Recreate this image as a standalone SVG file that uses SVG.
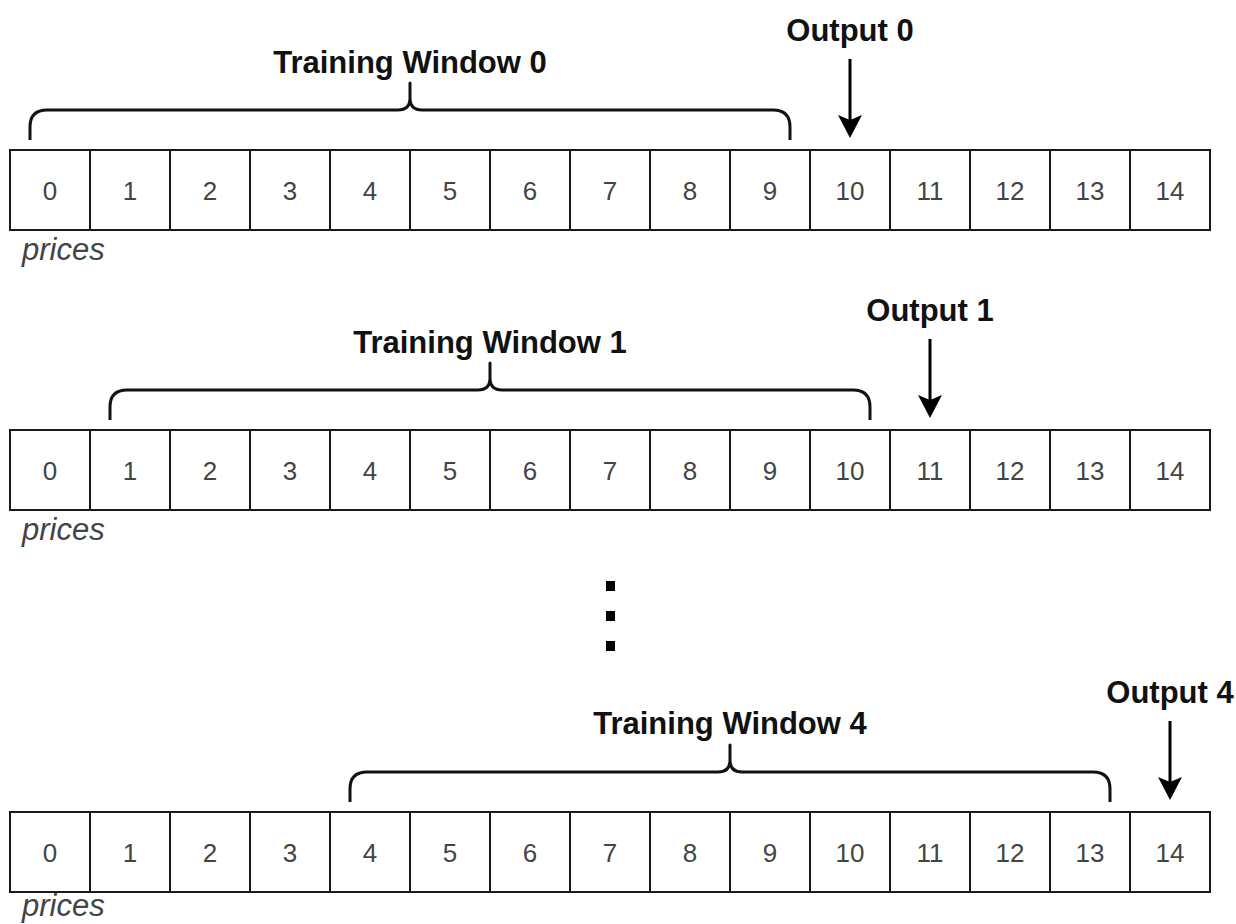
<svg xmlns="http://www.w3.org/2000/svg" width="1236" height="924" viewBox="0 0 1236 924">
<style>
.cell rect{fill:#fff;stroke:#1a1a1a;stroke-width:2}
.cell text{font-family:"Liberation Sans",Arial,sans-serif;font-size:26px;fill:#444;text-anchor:middle}
.cap{font-family:"Liberation Sans",Arial,sans-serif;font-size:31px;font-style:italic;fill:#444}
.lbl{font-family:"Liberation Sans",Arial,sans-serif;font-size:31px;font-weight:bold;fill:#111;text-anchor:middle}
.brace{fill:none;stroke:#111;stroke-width:3;stroke-linejoin:round;stroke-linecap:butt}
.arrow{stroke:#000;stroke-width:3;fill:none}
.dot{fill:#000}
</style>
<defs>
<marker id="ah" viewBox="0 0 23 24" refX="10" refY="12" markerWidth="23" markerHeight="24" markerUnits="userSpaceOnUse" orient="auto">
<path d="M0,0 L23,12 L0,24 L5,12 Z" fill="#000"/>
</marker>
<path id="bracePath" d="M30,140 V127 Q30,110 47,110 H398 Q410,110 410,98 V83 V98 Q410,110 422,110 H773 Q790,110 790,127 V140"/>
</defs>

<!-- Row 0 -->
<g id="row0">
<g id="r0c0" class="cell"><rect x="10" y="150" width="80" height="80"/><text x="50" y="200">0</text></g>
<g id="r0c1" class="cell"><rect x="90" y="150" width="80" height="80"/><text x="130" y="200">1</text></g>
<g id="r0c2" class="cell"><rect x="170" y="150" width="80" height="80"/><text x="210" y="200">2</text></g>
<g id="r0c3" class="cell"><rect x="250" y="150" width="80" height="80"/><text x="290" y="200">3</text></g>
<g id="r0c4" class="cell"><rect x="330" y="150" width="80" height="80"/><text x="370" y="200">4</text></g>
<g id="r0c5" class="cell"><rect x="410" y="150" width="80" height="80"/><text x="450" y="200">5</text></g>
<g id="r0c6" class="cell"><rect x="490" y="150" width="80" height="80"/><text x="530" y="200">6</text></g>
<g id="r0c7" class="cell"><rect x="570" y="150" width="80" height="80"/><text x="610" y="200">7</text></g>
<g id="r0c8" class="cell"><rect x="650" y="150" width="80" height="80"/><text x="690" y="200">8</text></g>
<g id="r0c9" class="cell"><rect x="730" y="150" width="80" height="80"/><text x="770" y="200">9</text></g>
<g id="r0c10" class="cell"><rect x="810" y="150" width="80" height="80"/><text x="850" y="200">10</text></g>
<g id="r0c11" class="cell"><rect x="890" y="150" width="80" height="80"/><text x="930" y="200">11</text></g>
<g id="r0c12" class="cell"><rect x="970" y="150" width="80" height="80"/><text x="1010" y="200">12</text></g>
<g id="r0c13" class="cell"><rect x="1050" y="150" width="80" height="80"/><text x="1090" y="200">13</text></g>
<g id="r0c14" class="cell"><rect x="1130" y="150" width="80" height="80"/><text x="1170" y="200">14</text></g>
<text class="cap" x="22" y="260">prices</text>
</g>
<g id="brace0"><use href="#bracePath" class="brace"/><text class="lbl" x="410" y="73">Training Window 0</text></g>
<g id="out0"><text class="lbl" x="850" y="41">Output 0</text></g>

<!-- Row 1 -->
<g id="row1">
<g id="r1c0" class="cell"><rect x="10" y="430" width="80" height="80"/><text x="50" y="480">0</text></g>
<g id="r1c1" class="cell"><rect x="90" y="430" width="80" height="80"/><text x="130" y="480">1</text></g>
<g id="r1c2" class="cell"><rect x="170" y="430" width="80" height="80"/><text x="210" y="480">2</text></g>
<g id="r1c3" class="cell"><rect x="250" y="430" width="80" height="80"/><text x="290" y="480">3</text></g>
<g id="r1c4" class="cell"><rect x="330" y="430" width="80" height="80"/><text x="370" y="480">4</text></g>
<g id="r1c5" class="cell"><rect x="410" y="430" width="80" height="80"/><text x="450" y="480">5</text></g>
<g id="r1c6" class="cell"><rect x="490" y="430" width="80" height="80"/><text x="530" y="480">6</text></g>
<g id="r1c7" class="cell"><rect x="570" y="430" width="80" height="80"/><text x="610" y="480">7</text></g>
<g id="r1c8" class="cell"><rect x="650" y="430" width="80" height="80"/><text x="690" y="480">8</text></g>
<g id="r1c9" class="cell"><rect x="730" y="430" width="80" height="80"/><text x="770" y="480">9</text></g>
<g id="r1c10" class="cell"><rect x="810" y="430" width="80" height="80"/><text x="850" y="480">10</text></g>
<g id="r1c11" class="cell"><rect x="890" y="430" width="80" height="80"/><text x="930" y="480">11</text></g>
<g id="r1c12" class="cell"><rect x="970" y="430" width="80" height="80"/><text x="1010" y="480">12</text></g>
<g id="r1c13" class="cell"><rect x="1050" y="430" width="80" height="80"/><text x="1090" y="480">13</text></g>
<g id="r1c14" class="cell"><rect x="1130" y="430" width="80" height="80"/><text x="1170" y="480">14</text></g>
<text class="cap" x="22" y="540">prices</text>
</g>
<g id="brace1"><use href="#bracePath" class="brace" transform="translate(80,280)"/><text class="lbl" x="490" y="353">Training Window 1</text></g>
<g id="out1"><text class="lbl" x="930" y="321">Output 1</text></g>

<!-- Ellipsis -->
<g id="ellipsis">
<rect class="dot" x="606" y="581" width="9" height="10"/>
<rect class="dot" x="606" y="611" width="9" height="10"/>
<rect class="dot" x="606" y="641" width="9" height="10"/>
</g>

<!-- Row 4 -->
<g id="row4">
<g id="r4c0" class="cell"><rect x="10" y="812" width="80" height="80"/><text x="50" y="862">0</text></g>
<g id="r4c1" class="cell"><rect x="90" y="812" width="80" height="80"/><text x="130" y="862">1</text></g>
<g id="r4c2" class="cell"><rect x="170" y="812" width="80" height="80"/><text x="210" y="862">2</text></g>
<g id="r4c3" class="cell"><rect x="250" y="812" width="80" height="80"/><text x="290" y="862">3</text></g>
<g id="r4c4" class="cell"><rect x="330" y="812" width="80" height="80"/><text x="370" y="862">4</text></g>
<g id="r4c5" class="cell"><rect x="410" y="812" width="80" height="80"/><text x="450" y="862">5</text></g>
<g id="r4c6" class="cell"><rect x="490" y="812" width="80" height="80"/><text x="530" y="862">6</text></g>
<g id="r4c7" class="cell"><rect x="570" y="812" width="80" height="80"/><text x="610" y="862">7</text></g>
<g id="r4c8" class="cell"><rect x="650" y="812" width="80" height="80"/><text x="690" y="862">8</text></g>
<g id="r4c9" class="cell"><rect x="730" y="812" width="80" height="80"/><text x="770" y="862">9</text></g>
<g id="r4c10" class="cell"><rect x="810" y="812" width="80" height="80"/><text x="850" y="862">10</text></g>
<g id="r4c11" class="cell"><rect x="890" y="812" width="80" height="80"/><text x="930" y="862">11</text></g>
<g id="r4c12" class="cell"><rect x="970" y="812" width="80" height="80"/><text x="1010" y="862">12</text></g>
<g id="r4c13" class="cell"><rect x="1050" y="812" width="80" height="80"/><text x="1090" y="862">13</text></g>
<g id="r4c14" class="cell"><rect x="1130" y="812" width="80" height="80"/><text x="1170" y="862">14</text></g>
<text class="cap" x="22" y="916">prices</text>
</g>
<g id="brace4"><use href="#bracePath" class="brace" transform="translate(320,662)"/><text class="lbl" x="730" y="734">Training Window 4</text></g>
<g id="out4"><text class="lbl" x="1170" y="703">Output 4</text></g>

<!-- Connectors -->
<g id="connectors">
<line class="arrow" x1="850" y1="59" x2="850" y2="125" marker-end="url(#ah)"/>
<line class="arrow" x1="930" y1="339" x2="930" y2="405" marker-end="url(#ah)"/>
<line class="arrow" x1="1170" y1="721" x2="1170" y2="787" marker-end="url(#ah)"/>
</g>
</svg>
